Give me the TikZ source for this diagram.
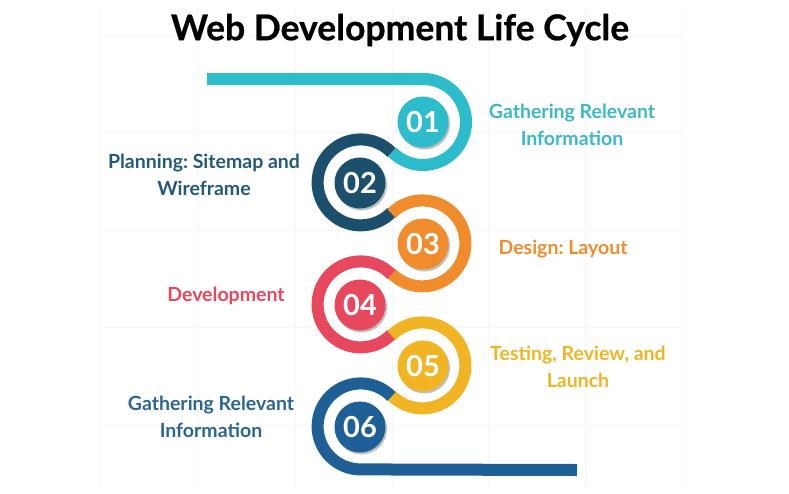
\documentclass[tikz,border=0pt]{standalone}
\usepackage{fontspec}
\setmainfont{Lato}
\newfontfamily\titlefont[BoldFeatures={FakeBold=0.7}]{Lato}
\frenchspacing
\usetikzlibrary{calc,shadows}
\definecolor{cteal}{HTML}{2DBCCB}
\definecolor{cnavy}{HTML}{1B4F6C}
\definecolor{corange}{HTML}{F18C2D}
\definecolor{cred}{HTML}{E8485D}
\definecolor{cyellow}{HTML}{F1B423}
\definecolor{cblue}{HTML}{1E6095}
\definecolor{tteal}{HTML}{3BB9C6}
\definecolor{tnavy}{HTML}{245A78}
\definecolor{tblue}{HTML}{2B6593}
\begin{document}
\begin{tikzpicture}[x=1pt,y=1pt,
  ring/.style={line width=12pt,line cap=butt},
  disc/.style={circle,minimum size=51pt,inner sep=0pt,text=white,
    font=\fontsize{29}{31}\selectfont\bfseries,
    drop shadow={shadow xshift=1.5pt,shadow yshift=-2pt,opacity=0.25,fill=black}},
  lbl/.style={align=center,font=\fontsize{19.5}{27}\selectfont\bfseries},
  gridln/.style={draw=black!3,line width=0.8pt}]
\useasboundingbox (0,0) rectangle (789,-493);
\fill[white] (0,0) rectangle (789,-493);
% faint background grid
\foreach \gx in {100,197,295,392,488,585,682}
  \draw[gridln] (\gx,-8) -- (\gx,-488);
\foreach \gy in {35,132,230,327,425}
  \draw[gridln] (100,-\gy) -- (682,-\gy);
% centers
\coordinate (c1) at (423,-122);
\coordinate (c2) at (360,-183);
\coordinate (c3) at (423,-244);
\coordinate (c4) at (360,-305);
\coordinate (c5) at (423,-366);
\coordinate (c6) at (360,-427);
\coordinate (t12) at ($(c1)!0.5!(c2)$);
\coordinate (t23) at ($(c2)!0.5!(c3)$);
\coordinate (t34) at ($(c3)!0.5!(c4)$);
\coordinate (t45) at ($(c4)!0.5!(c5)$);
\coordinate (t56) at ($(c5)!0.5!(c6)$);
\coordinate (start) at (207,-79);
\coordinate (top1) at ($(c1)+(0,43)$);
\coordinate (finish) at (577,-470);
% rings
\draw[ring,cteal] (start) -- (top1) arc[start angle=90,end angle=-135.93,radius=43];
\draw[ring,cnavy] (t12) arc[start angle=44.07,end angle=315.93,radius=43];
\draw[ring,corange] (t23) arc[start angle=135.93,end angle=-135.93,radius=43];
\draw[ring,cred] (t34) arc[start angle=44.07,end angle=315.93,radius=43];
\draw[ring,cyellow] (t45) arc[start angle=135.93,end angle=-135.93,radius=43];
\draw[ring,cblue] (t56) arc[start angle=44.07,end angle=270,radius=43] -- (finish);
% discs
\node[disc,fill=cteal] (n1) at (c1) {01};
\node[disc,fill=cnavy] (n2) at (c2) {02};
\node[disc,fill=corange] (n3) at (c3) {03};
\node[disc,fill=cred] (n4) at (c4) {04};
\node[disc,fill=cyellow] (n5) at (c5) {05};
\node[disc,fill=cblue] (n6) at (c6) {06};
% labels
\node[font=\fontsize{35.5}{40}\titlefont\bfseries] (title) at (400,-30) {Web Development Life Cycle};
\node[lbl,text=tteal] (l1) at (572,-125) {Gathering Relevant\\Information};
\node[lbl,text=tnavy] (l2) at (204,-175) {Planning: Sitemap and\\Wireframe};
\node[lbl,text=corange] (l3) at (563,-249) {Design: Layout};
\node[lbl,text=cred] (l4) at (226,-296) {Development};
\node[lbl,text=cyellow] (l5) at (578,-367) {Testing, Review, and\\Launch};
\node[lbl,text=tblue] (l6) at (211,-417) {Gathering Relevant\\Information};
\end{tikzpicture}
\end{document}
